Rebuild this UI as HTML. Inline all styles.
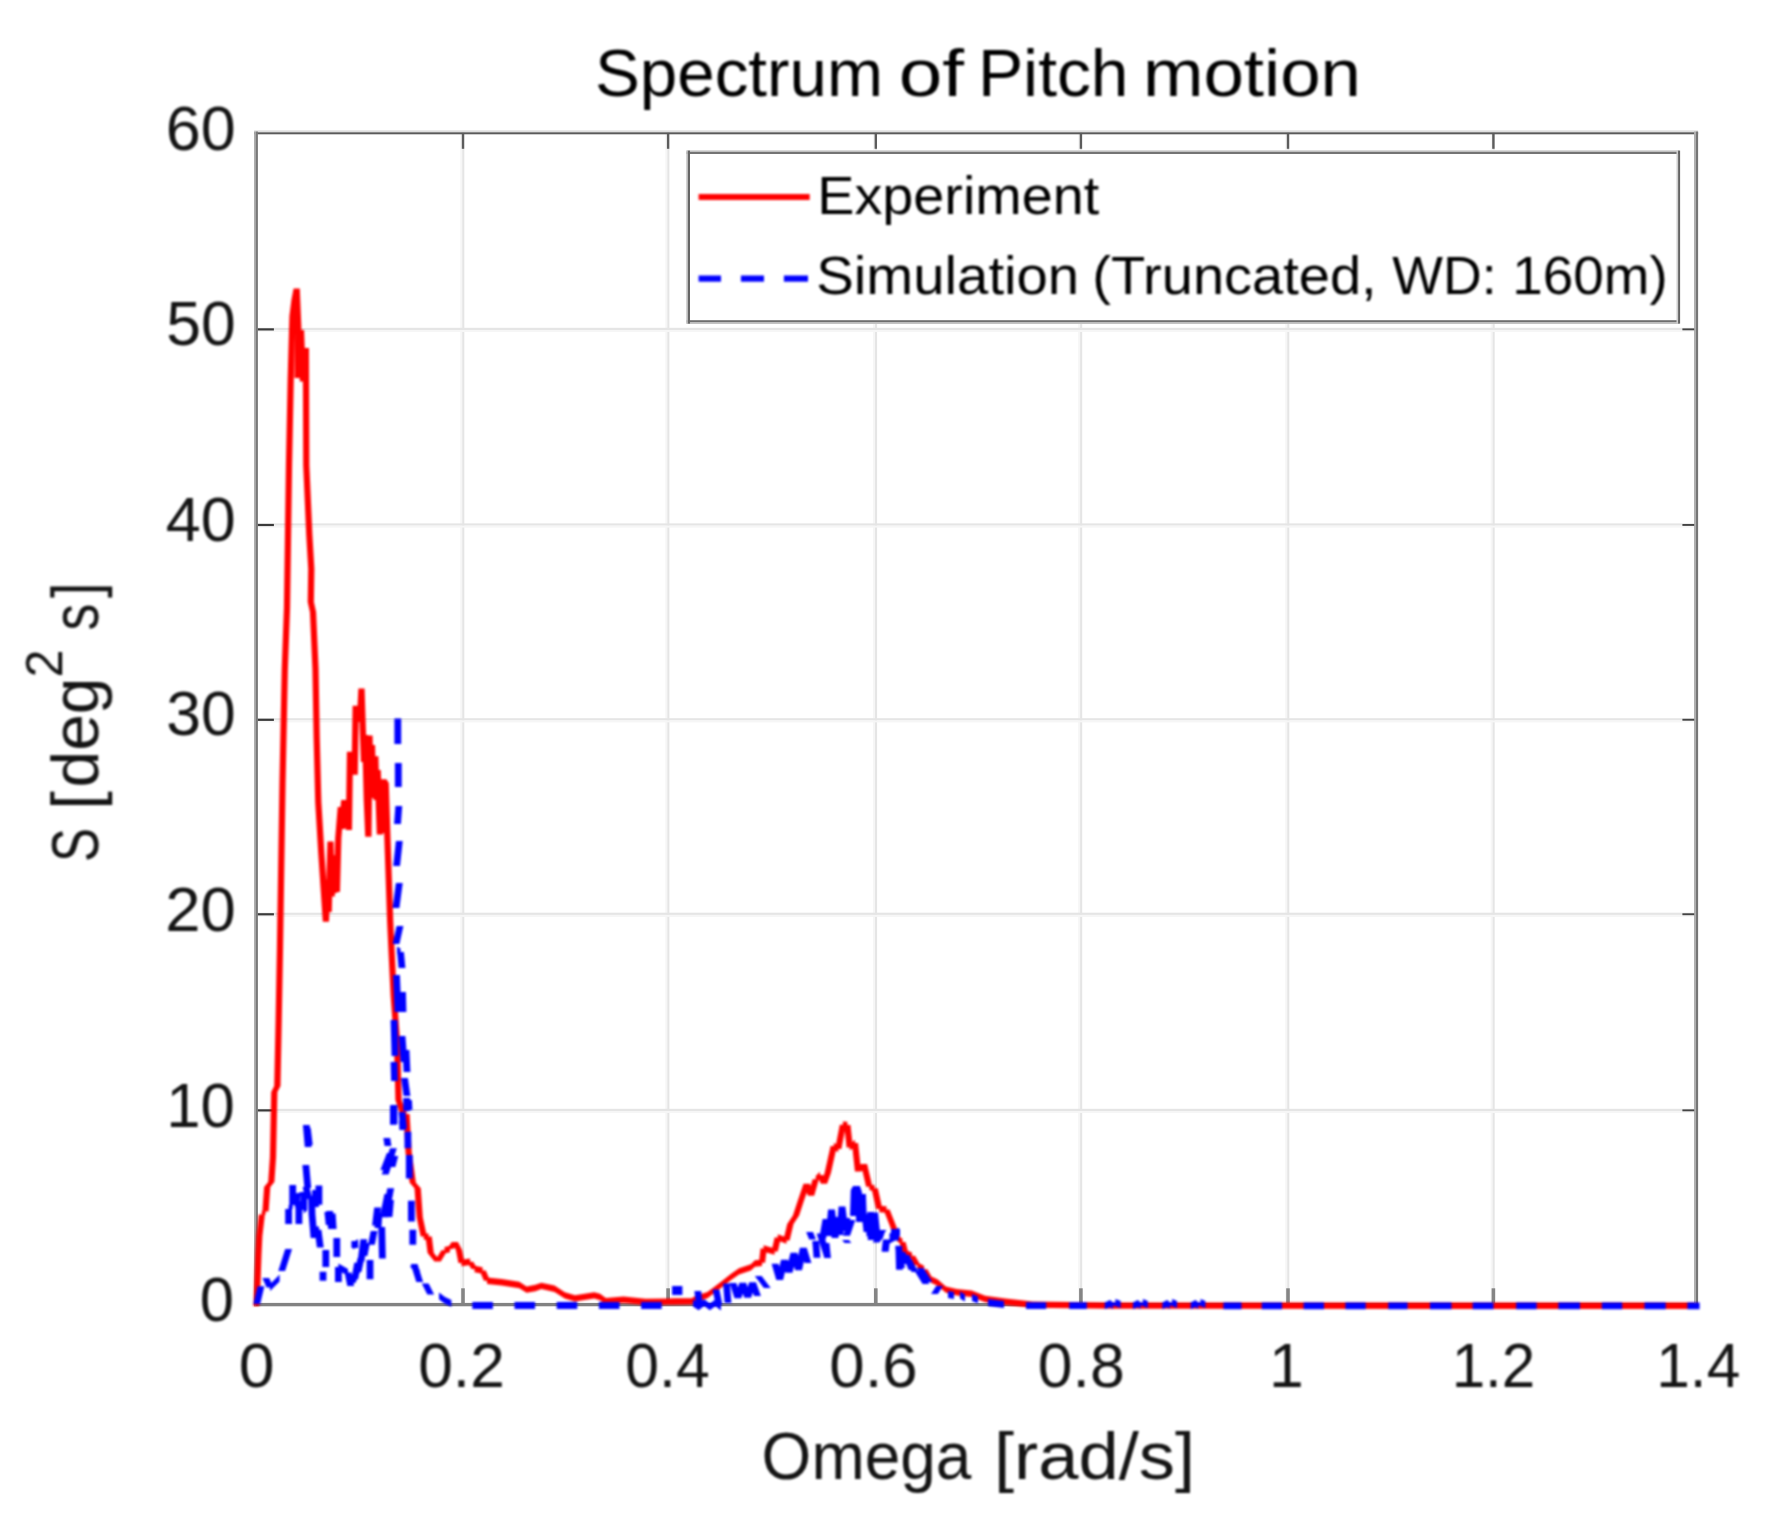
<!DOCTYPE html>
<html lang="en"><head><meta charset="utf-8"><title>Spectrum of Pitch motion</title>
<style>html,body{margin:0;padding:0;background:#fff}body{width:1771px;height:1522px;overflow:hidden}svg{display:block}text{font-family:"Liberation Sans",sans-serif;fill:#141414}</style></head><body>
<svg width="1771" height="1522" viewBox="0 0 1771 1522">
<defs><filter id="soft" x="0" y="0" width="1771" height="1522" filterUnits="userSpaceOnUse" color-interpolation-filters="sRGB"><feGaussianBlur stdDeviation="1"/></filter></defs>
<rect width="1771" height="1522" fill="#fff"/>
<rect x="460.3" y="131.8" width="2" height="1173.0" fill="#f6f6f6"/>
<rect x="462.2" y="131.8" width="2.1" height="1173.0" fill="#e5e5e5"/>
<rect x="665.4" y="131.8" width="2" height="1173.0" fill="#f6f6f6"/>
<rect x="667.3" y="131.8" width="2.1" height="1173.0" fill="#e5e5e5"/>
<rect x="873.1" y="131.8" width="2" height="1173.0" fill="#f6f6f6"/>
<rect x="875.0" y="131.8" width="2.1" height="1173.0" fill="#e5e5e5"/>
<rect x="1078.2" y="131.8" width="2" height="1173.0" fill="#f6f6f6"/>
<rect x="1080.1" y="131.8" width="2.1" height="1173.0" fill="#e5e5e5"/>
<rect x="1285.3" y="131.8" width="2" height="1173.0" fill="#f6f6f6"/>
<rect x="1287.2" y="131.8" width="2.1" height="1173.0" fill="#e5e5e5"/>
<rect x="1490.7" y="131.8" width="2" height="1173.0" fill="#f6f6f6"/>
<rect x="1492.6" y="131.8" width="2.1" height="1173.0" fill="#e5e5e5"/>
<rect x="256.0" y="327.8" width="1440.3" height="2.2" fill="#e5e5e5"/>
<rect x="256.0" y="330.0" width="1440.3" height="2" fill="#f6f6f6"/>
<rect x="256.0" y="523.4" width="1440.3" height="2.2" fill="#e5e5e5"/>
<rect x="256.0" y="525.6" width="1440.3" height="2" fill="#f6f6f6"/>
<rect x="256.0" y="718.2" width="1440.3" height="2.2" fill="#e5e5e5"/>
<rect x="256.0" y="720.4" width="1440.3" height="2" fill="#f6f6f6"/>
<rect x="256.0" y="912.7" width="1440.3" height="2.2" fill="#e5e5e5"/>
<rect x="256.0" y="914.9" width="1440.3" height="2" fill="#f6f6f6"/>
<rect x="256.0" y="1108.8" width="1440.3" height="2.2" fill="#e5e5e5"/>
<rect x="256.0" y="1111.0" width="1440.3" height="2" fill="#f6f6f6"/>
<rect x="254.1" y="130.3" width="1444" height="2" fill="#dedede"/>
<rect x="254.1" y="132.3" width="1444" height="2" fill="#5a5a5a"/>
<rect x="254.1" y="1302.9" width="1444" height="3.4" fill="#828282"/>
<rect x="254.1" y="131.5" width="1.9" height="1174.5" fill="#a6a6a6"/>
<rect x="256" y="131.5" width="1.9" height="1174.5" fill="#787878"/>
<rect x="1694" y="131.5" width="2" height="1174.5" fill="#b0b0b0"/>
<rect x="1696" y="131.5" width="2.1" height="1174.5" fill="#767676"/>
<rect x="461.2" y="1288.3" width="3.6" height="15" fill="#858585"/>
<rect x="461.8" y="133.8" width="2.4" height="15" fill="#5c5c5c"/>
<rect x="666.3" y="1288.3" width="3.6" height="15" fill="#858585"/>
<rect x="666.9" y="133.8" width="2.4" height="15" fill="#5c5c5c"/>
<rect x="874.0" y="1288.3" width="3.6" height="15" fill="#858585"/>
<rect x="874.6" y="133.8" width="2.4" height="15" fill="#5c5c5c"/>
<rect x="1079.1" y="1288.3" width="3.6" height="15" fill="#858585"/>
<rect x="1079.7" y="133.8" width="2.4" height="15" fill="#5c5c5c"/>
<rect x="1286.2" y="1288.3" width="3.6" height="15" fill="#858585"/>
<rect x="1286.8" y="133.8" width="2.4" height="15" fill="#5c5c5c"/>
<rect x="1491.6" y="1288.3" width="3.6" height="15" fill="#858585"/>
<rect x="1492.2" y="133.8" width="2.4" height="15" fill="#5c5c5c"/>
<rect x="257.9" y="328.3" width="16" height="2.2" fill="#3a3a3a"/>
<rect x="1682.4" y="328.4" width="11.8" height="1.9" fill="#444"/>
<rect x="257.9" y="523.9" width="16" height="2.2" fill="#3a3a3a"/>
<rect x="1682.4" y="524.0" width="11.8" height="1.9" fill="#444"/>
<rect x="257.9" y="718.7" width="16" height="2.2" fill="#3a3a3a"/>
<rect x="1682.4" y="718.8" width="11.8" height="1.9" fill="#444"/>
<rect x="257.9" y="913.2" width="16" height="2.2" fill="#3a3a3a"/>
<rect x="1682.4" y="913.3" width="11.8" height="1.9" fill="#444"/>
<rect x="257.9" y="1109.3" width="16" height="2.2" fill="#3a3a3a"/>
<rect x="1682.4" y="1109.4" width="11.8" height="1.9" fill="#444"/>
<rect x="686" y="150" width="994" height="174.1" fill="#fff"/>
<rect x="686.6" y="150.4" width="992.8" height="1.6" fill="#c0c0c0"/><rect x="686.6" y="152" width="992.8" height="2" fill="#747474"/>
<rect x="686.6" y="320.2" width="992.8" height="2.1" fill="#6e6e6e"/><rect x="686.6" y="322.3" width="992.8" height="1.5" fill="#b4b4b4"/>
<rect x="686.3" y="150.6" width="1.6" height="173" fill="#c0c0c0"/><rect x="687.9" y="150.6" width="2.1" height="173" fill="#666"/>
<rect x="1676.5" y="150.6" width="1.6" height="173" fill="#cfcfcf"/><rect x="1678.1" y="150.6" width="2" height="173" fill="#646464"/>
<g filter="url(#soft)">
<path fill="#ff0000" fill-rule="nonzero" d="M253.5 1302.5L259.8 1302.5L259.4 1306.0L253.2 1306.0ZM255.2 1255.0L261.5 1255.0L259.8 1302.5L253.5 1302.5ZM256.2 1236.0L262.4 1236.0L261.5 1255.0L255.2 1255.0ZM258.7 1214.4L264.9 1214.4L262.4 1236.0L256.2 1236.0ZM261.8 1211.2L265.5 1208.3L265.5 1214.7L261.8 1217.6ZM264.1 1187.0L270.3 1187.0L268.6 1211.5L262.4 1211.5ZM268.2 1182.0L274.4 1182.0L270.3 1187.0L264.1 1187.0ZM269.9 1157.0L276.1 1157.0L274.4 1182.0L268.2 1182.0ZM271.2 1092.0L277.4 1092.0L276.1 1157.0L269.9 1157.0ZM274.2 1086.0L280.5 1086.0L277.4 1092.0L271.2 1092.0ZM275.6 1019.0L281.8 1019.0L280.5 1086.0L274.2 1086.0ZM276.9 947.0L283.1 947.0L281.8 1019.0L275.6 1019.0ZM279.4 784.0L285.6 784.0L283.1 947.0L276.9 947.0ZM281.7 669.0L287.9 669.0L285.6 784.0L279.4 784.0ZM283.9 608.0L290.1 608.0L287.9 669.0L281.7 669.0ZM285.9 465.0L292.1 465.0L290.1 608.0L283.9 608.0ZM287.6 380.0L293.8 380.0L292.1 465.0L285.9 465.0ZM289.4 316.0L295.6 316.0L293.8 380.0L287.6 380.0ZM291.4 300.0L297.6 300.0L295.6 316.0L289.4 316.0ZM293.6 288.4L299.8 288.4L297.6 300.0L291.4 300.0ZM293.6 288.4L299.8 288.4L301.4 327.5L295.2 327.5ZM295.2 327.5L301.4 327.5L300.8 378.0L294.5 378.0ZM297.9 330.0L304.1 330.0L300.8 378.0L294.5 378.0ZM297.9 330.0L304.1 330.0L306.0 381.5L299.8 381.5ZM302.8 348.0L309.0 348.0L306.0 381.5L299.8 381.5ZM302.8 348.0L309.0 348.0L309.4 465.4L303.2 465.4ZM303.2 465.4L309.4 465.4L312.4 534.4L306.2 534.4ZM306.2 534.4L312.4 534.4L314.4 569.0L308.2 569.0ZM308.2 569.0L314.4 569.0L313.9 602.0L307.7 602.0ZM307.7 602.0L313.9 602.0L316.1 612.0L309.9 612.0ZM309.9 612.0L316.1 612.0L318.6 669.0L312.4 669.0ZM312.4 669.0L318.6 669.0L319.8 737.9L313.6 737.9ZM313.6 737.9L319.8 737.9L321.4 802.3L315.2 802.3ZM315.2 802.3L321.4 802.3L324.4 852.9L318.2 852.9ZM318.2 852.9L324.4 852.9L329.0 921.8L322.8 921.8ZM324.5 880.0L330.8 880.0L329.0 921.8L322.8 921.8ZM324.5 880.0L330.8 880.0L331.8 912.0L325.5 912.0ZM327.4 841.4L333.6 841.4L331.8 912.0L325.5 912.0ZM327.4 841.4L333.6 841.4L334.8 896.6L328.5 896.6ZM329.9 858.0L336.1 858.0L334.8 896.6L328.5 896.6ZM329.9 858.0L336.1 858.0L337.1 893.0L330.9 893.0ZM332.4 855.2L338.6 855.2L337.1 893.0L330.9 893.0ZM332.4 855.2L338.6 855.2L340.0 892.0L333.8 892.0ZM335.2 838.0L341.4 838.0L340.0 892.0L333.8 892.0ZM337.7 806.9L343.9 806.9L341.4 838.0L335.2 838.0ZM337.7 806.9L343.9 806.9L344.9 829.0L338.7 829.0ZM340.0 812.0L346.2 812.0L344.9 829.0L338.7 829.0ZM341.2 800.0L347.4 800.0L346.2 812.0L340.0 812.0ZM341.2 800.0L347.4 800.0L348.8 828.0L342.5 828.0ZM343.9 806.0L350.1 806.0L348.8 828.0L342.5 828.0ZM343.9 806.0L350.1 806.0L352.0 829.9L345.8 829.9ZM346.9 751.7L353.1 751.7L352.0 829.9L345.8 829.9ZM346.9 751.7L353.1 751.7L354.5 772.0L348.2 772.0ZM349.5 752.0L355.8 752.0L354.5 772.0L348.2 772.0ZM349.5 752.0L355.8 752.0L357.8 774.7L351.5 774.7ZM352.6 705.7L358.8 705.7L357.8 774.7L351.5 774.7ZM352.6 705.7L358.8 705.7L360.1 722.0L353.9 722.0ZM355.4 708.0L361.6 708.0L360.1 722.0L353.9 722.0ZM355.4 708.0L361.6 708.0L362.9 722.0L356.7 722.0ZM358.4 688.5L364.6 688.5L362.9 722.0L356.7 722.0ZM358.4 688.5L364.6 688.5L365.9 729.0L359.7 729.0ZM359.7 729.0L365.9 729.0L367.1 762.0L360.9 762.0ZM362.1 735.0L368.3 735.0L367.1 762.0L360.9 762.0ZM362.1 735.0L368.3 735.0L369.9 800.0L363.7 800.0ZM363.7 800.0L369.9 800.0L371.5 836.8L365.2 836.8ZM366.4 735.6L372.6 735.6L371.5 836.8L365.2 836.8ZM366.4 735.6L372.6 735.6L373.9 798.0L367.7 798.0ZM368.9 745.0L375.1 745.0L373.9 798.0L367.7 798.0ZM368.9 745.0L375.1 745.0L376.3 797.0L370.1 797.0ZM372.2 756.3L378.4 756.3L376.3 797.0L370.1 797.0ZM372.2 756.3L378.4 756.3L379.6 800.0L373.4 800.0ZM374.5 770.0L380.8 770.0L379.6 800.0L373.4 800.0ZM374.5 770.0L380.8 770.0L383.0 834.5L376.8 834.5ZM377.9 792.0L384.1 792.0L383.0 834.5L376.8 834.5ZM377.9 792.0L384.1 792.0L385.1 833.0L378.9 833.0ZM380.2 779.3L386.4 779.3L385.1 833.0L378.9 833.0ZM380.2 779.3L386.4 779.3L388.8 783.0L382.5 783.0ZM382.5 783.0L388.8 783.0L391.0 852.9L384.8 852.9ZM384.8 852.9L391.0 852.9L393.3 921.8L387.1 921.8ZM387.1 921.8L393.3 921.8L394.6 950.0L388.4 950.0ZM388.4 950.0L394.6 950.0L396.8 996.0L390.6 996.0ZM390.6 996.0L396.8 996.0L400.2 1042.0L394.0 1042.0ZM394.0 1042.0L400.2 1042.0L401.6 1100.0L395.4 1100.0ZM395.4 1100.0L401.6 1100.0L406.1 1113.8L399.9 1113.8ZM403.0 1110.6L406.5 1110.8L406.5 1117.2L403.0 1117.0ZM403.4 1114.0L409.6 1114.0L411.8 1152.4L405.5 1152.4ZM405.5 1152.4L411.8 1152.4L415.9 1182.8L409.7 1182.8ZM409.7 1182.8L415.9 1182.8L420.8 1188.3L414.5 1188.3ZM414.5 1188.3L420.8 1188.3L422.8 1217.2L416.6 1217.2ZM416.6 1217.2L422.8 1217.2L426.9 1236.6L420.7 1236.6ZM423.8 1233.4L428.6 1233.4L428.6 1239.8L423.8 1239.8ZM425.5 1236.6L431.8 1236.6L433.8 1253.0L427.6 1253.0ZM427.6 1253.0L433.8 1253.0L440.8 1261.4L434.5 1261.4ZM441.4 1250.3L447.6 1250.3L440.8 1261.4L434.5 1261.4ZM444.5 1247.1L450.0 1245.8L450.0 1252.2L444.5 1253.5ZM451.7 1242.0L457.9 1242.0L453.1 1249.0L446.9 1249.0ZM451.7 1242.0L457.9 1242.0L462.1 1250.0L455.9 1250.0ZM455.9 1250.0L462.1 1250.0L464.6 1263.0L458.4 1263.0ZM461.5 1259.8L470.1 1258.5L470.1 1264.9L461.5 1266.2ZM467.0 1261.7L473.2 1261.7L477.6 1269.0L471.4 1269.0ZM474.5 1265.8L482.6 1267.3L482.6 1273.7L474.5 1272.2ZM479.5 1270.5L485.8 1270.5L490.1 1280.7L483.9 1280.7ZM487.0 1277.5L501.7 1279.0L501.7 1285.4L487.0 1283.9ZM501.7 1279.0L519.3 1281.8L519.3 1288.2L501.7 1285.4ZM519.3 1281.8L526.6 1286.4L526.6 1292.8L519.3 1288.2ZM526.6 1286.4L535.4 1284.8L535.4 1291.2L526.6 1292.8ZM535.4 1284.8L541.3 1282.8L541.3 1289.1L535.4 1291.2ZM541.3 1282.8L554.5 1285.6L554.5 1292.0L541.3 1289.1ZM554.5 1285.6L564.8 1292.2L564.8 1298.6L554.5 1292.0ZM564.8 1292.2L575.0 1295.2L575.0 1301.6L564.8 1298.6ZM575.0 1295.2L594.2 1292.2L594.2 1298.6L575.0 1301.6ZM594.2 1292.2L600.0 1293.8L600.0 1300.2L594.2 1298.6ZM600.0 1293.8L605.9 1298.1L605.9 1304.5L600.0 1300.2ZM605.9 1298.1L623.5 1296.6L623.5 1303.0L605.9 1304.5ZM623.5 1296.6L645.5 1298.8L645.5 1305.2L623.5 1303.0ZM645.5 1298.8L667.6 1298.4L667.6 1304.8L645.5 1305.2ZM667.6 1298.4L691.6 1298.2L691.6 1304.6L667.6 1304.8ZM691.6 1298.2L695.6 1295.8L695.6 1302.2L691.6 1304.6ZM695.6 1295.8L707.4 1291.9L707.4 1298.2L695.6 1302.2ZM707.4 1291.9L720.0 1282.4L720.0 1288.8L707.4 1298.2ZM720.0 1282.4L731.1 1273.8L731.1 1280.1L720.0 1288.8ZM731.1 1273.8L739.0 1268.2L739.0 1274.6L731.1 1280.1ZM739.0 1268.2L750.9 1264.2L750.9 1270.6L739.0 1274.6ZM750.9 1264.2L754.9 1260.3L754.9 1266.7L750.9 1270.6ZM754.9 1260.3L762.0 1259.5L762.0 1265.9L754.9 1266.7ZM760.5 1248.5L766.8 1248.5L765.1 1262.7L758.9 1262.7ZM763.6 1245.3L774.6 1248.4L774.6 1254.8L763.6 1251.7ZM774.6 1237.4L780.9 1237.4L777.8 1251.6L771.5 1251.6ZM777.8 1234.2L786.5 1237.4L786.5 1243.8L777.8 1240.6ZM787.2 1224.0L793.5 1224.0L789.6 1240.6L783.4 1240.6ZM792.9 1215.4L799.1 1215.4L793.5 1224.0L787.2 1224.0ZM797.4 1201.8L803.6 1201.8L799.1 1215.4L792.9 1215.4ZM803.5 1183.7L809.8 1183.7L803.6 1201.8L797.4 1201.8ZM803.5 1183.7L809.8 1183.7L814.2 1195.8L808.0 1195.8ZM812.6 1179.2L818.9 1179.2L814.2 1195.8L808.0 1195.8ZM815.7 1176.0L820.0 1171.8L820.0 1178.2L815.7 1182.4ZM816.9 1175.0L823.1 1175.0L827.1 1183.7L820.9 1183.7ZM824.6 1173.1L830.9 1173.1L827.1 1183.7L820.9 1183.7ZM830.6 1145.9L836.9 1145.9L830.9 1173.1L824.6 1173.1ZM833.8 1142.8L838.3 1145.8L838.3 1152.2L833.8 1149.1ZM839.8 1124.8L846.0 1124.8L841.4 1149.0L835.1 1149.0ZM842.9 1121.6L847.4 1121.8L847.4 1128.2L842.9 1128.0ZM844.2 1125.0L850.5 1125.0L852.9 1147.4L846.6 1147.4ZM849.7 1144.2L855.0 1139.8L855.0 1146.1L849.7 1150.6ZM851.9 1142.9L858.1 1142.9L861.1 1171.6L854.9 1171.6ZM860.9 1164.0L867.1 1164.0L861.1 1171.6L854.9 1171.6ZM860.9 1164.0L867.1 1164.0L872.4 1186.7L866.1 1186.7ZM869.3 1183.5L874.6 1185.0L874.6 1191.4L869.3 1189.9ZM871.5 1188.2L877.8 1188.2L882.4 1209.0L876.1 1209.0ZM879.3 1205.8L886.5 1206.3L886.5 1212.7L879.3 1212.2ZM883.4 1209.5L889.6 1209.5L896.1 1225.9L889.9 1225.9ZM889.9 1225.9L896.1 1225.9L900.2 1238.0L894.0 1238.0ZM897.1 1234.8L902.5 1238.8L902.5 1245.2L897.1 1241.2ZM899.4 1242.0L905.6 1242.0L908.4 1253.0L902.1 1253.0ZM905.2 1249.8L912.0 1252.5L912.0 1258.9L905.2 1256.2ZM908.9 1255.7L915.1 1255.7L920.5 1265.2L914.2 1265.2ZM917.4 1262.0L924.2 1266.1L924.2 1272.5L917.4 1268.4ZM921.1 1269.3L927.4 1269.3L932.8 1278.7L926.5 1278.7ZM929.6 1275.5L937.8 1279.6L937.8 1286.0L929.6 1281.9ZM937.8 1279.6L945.9 1286.4L945.9 1292.8L937.8 1286.0ZM945.9 1286.4L956.7 1289.1L956.7 1295.5L945.9 1292.8ZM956.7 1289.1L971.6 1290.5L971.6 1296.9L956.7 1295.5ZM971.6 1290.5L985.2 1295.8L985.2 1302.2L971.6 1296.9ZM985.2 1295.8L1005.5 1298.6L1005.5 1305.0L985.2 1302.2ZM1005.5 1298.6L1032.6 1301.4L1032.6 1307.8L1005.5 1305.0ZM1032.6 1301.4L1110.0 1302.4L1110.0 1308.8L1032.6 1307.8ZM1110.0 1302.4L1698.6 1302.6L1698.6 1309.0L1110.0 1308.8Z"/>
<path fill="#0000ff" fill-rule="nonzero" d="M257.6 1286.2L264.4 1286.2L260.2 1304.0L253.4 1304.0ZM262.4 1278.0L269.2 1278.0L273.4 1287.6L266.6 1287.6ZM270.0 1284.2L279.6 1274.6L279.6 1281.4L270.0 1291.0ZM285.2 1249.0L292.0 1249.0L285.1 1271.0L278.3 1271.0ZM285.2 1209.0L292.0 1209.0L292.0 1224.0L285.2 1224.0ZM288.6 1205.6L292.7 1201.6L292.7 1208.4L288.6 1212.4ZM289.3 1185.0L296.1 1185.0L296.1 1205.0L289.3 1205.0ZM292.6 1199.0L299.4 1199.0L296.1 1203.0L289.3 1203.0ZM292.6 1199.0L299.4 1199.0L302.3 1208.0L295.5 1208.0ZM295.5 1208.0L302.3 1208.0L302.3 1224.0L295.5 1224.0ZM295.5 1193.6L300.0 1192.6L300.0 1199.4L295.5 1200.4ZM300.3 1192.0L307.1 1192.0L303.4 1196.0L296.6 1196.0ZM300.3 1192.0L307.1 1192.0L307.1 1210.0L300.3 1210.0ZM303.7 1206.6L307.0 1203.6L307.0 1210.4L303.7 1213.4ZM302.4 1165.0L309.2 1165.0L311.2 1188.0L304.4 1188.0ZM302.6 1187.0L309.4 1187.0L312.4 1199.0L305.6 1199.0ZM302.9 1125.0L309.7 1125.0L311.6 1147.0L304.8 1147.0ZM303.9 1128.0L310.7 1128.0L312.7 1145.0L305.9 1145.0ZM315.5 1185.5L322.3 1185.5L322.3 1204.8L315.5 1204.8ZM312.1 1190.0L318.9 1190.0L318.9 1207.0L312.1 1207.0ZM308.1 1196.0L314.9 1196.0L315.4 1214.0L308.6 1214.0ZM308.6 1214.0L315.4 1214.0L317.4 1238.0L310.6 1238.0ZM312.0 1226.6L319.0 1226.6L319.0 1233.4L312.0 1233.4ZM314.6 1229.7L321.4 1229.7L323.7 1247.6L316.9 1247.6ZM326.2 1211.0L333.0 1211.0L335.0 1229.0L328.2 1229.0ZM328.8 1213.5L335.6 1213.5L336.6 1229.0L329.8 1229.0ZM324.4 1212.0L331.2 1212.0L332.6 1225.0L325.8 1225.0ZM322.4 1250.0L329.2 1250.0L329.2 1267.0L322.4 1267.0ZM319.6 1271.7L326.4 1271.7L326.4 1280.7L319.6 1280.7ZM333.4 1238.0L340.2 1238.0L340.2 1257.0L333.4 1257.0ZM335.0 1267.0L341.8 1267.0L341.8 1282.0L335.0 1282.0ZM338.4 1263.6L348.0 1269.0L348.0 1275.8L338.4 1270.4ZM344.6 1272.4L351.4 1272.4L354.1 1286.0L347.3 1286.0ZM351.4 1241.0L358.2 1241.0L358.2 1248.0L351.4 1248.0ZM353.0 1242.6L358.0 1239.1L358.0 1245.9L353.0 1249.4ZM360.4 1239.3L367.2 1239.3L364.4 1261.4L357.6 1261.4ZM354.2 1262.8L361.0 1262.8L358.2 1279.3L351.4 1279.3ZM354.1 1270.0L360.9 1270.0L355.4 1283.0L348.6 1283.0ZM357.6 1258.0L364.4 1258.0L361.4 1272.0L354.6 1272.0ZM366.6 1260.0L373.4 1260.0L373.4 1279.3L366.6 1279.3ZM363.1 1243.0L369.9 1243.0L367.4 1256.0L360.6 1256.0ZM370.7 1231.0L377.5 1231.0L374.8 1244.8L368.0 1244.8ZM374.2 1207.6L381.0 1207.6L378.9 1225.5L372.1 1225.5ZM375.6 1213.0L382.4 1213.0L381.4 1228.0L374.6 1228.0ZM378.3 1227.0L385.1 1227.0L385.8 1258.6L379.0 1258.6ZM387.3 1188.3L394.1 1188.3L388.6 1217.2L381.8 1217.2ZM384.4 1194.0L391.2 1194.0L387.4 1213.0L380.6 1213.0ZM387.1 1200.0L393.9 1200.0L392.4 1217.0L385.6 1217.0ZM383.4 1138.0L390.2 1138.0L391.4 1146.0L384.6 1146.0ZM390.0 1148.3L396.8 1148.3L388.6 1174.5L381.8 1174.5ZM386.9 1153.0L393.7 1153.0L387.2 1170.0L380.4 1170.0ZM391.4 1156.0L398.2 1156.0L395.4 1167.0L388.6 1167.0ZM390.0 1105.5L396.8 1105.5L396.8 1124.8L390.0 1124.8ZM403.2 1098.0L410.0 1098.0L410.0 1111.0L403.2 1111.0ZM399.0 1120.7L405.8 1120.7L406.2 1130.0L399.4 1130.0ZM404.5 1131.7L411.3 1131.7L411.3 1148.3L404.5 1148.3ZM405.9 1155.0L412.7 1155.0L412.7 1178.6L405.9 1178.6ZM408.0 1200.7L414.8 1200.7L414.8 1221.4L408.0 1221.4ZM409.4 1229.7L416.2 1229.7L416.2 1244.8L409.4 1244.8ZM409.8 1266.0L416.6 1266.0L420.4 1271.0L413.6 1271.0ZM410.7 1264.0L417.5 1264.0L423.1 1282.0L416.3 1282.0ZM421.8 1283.4L428.6 1283.4L434.1 1294.5L427.3 1294.5ZM439.0 1292.5L445.0 1297.1L445.0 1303.9L439.0 1299.3ZM445.0 1297.1L451.4 1300.0L451.4 1306.8L445.0 1303.9ZM394.4 718.5L401.2 718.5L401.2 744.0L394.4 744.0ZM394.9 763.0L401.7 763.0L401.7 787.0L394.9 787.0ZM395.4 806.0L402.2 806.0L400.9 824.0L394.1 824.0ZM395.9 841.0L402.7 841.0L400.0 866.0L393.2 866.0ZM395.9 883.0L402.7 883.0L399.4 908.0L392.6 908.0ZM396.6 926.0L403.4 926.0L399.4 944.0L392.6 944.0ZM397.0 946.6L400.5 948.6L400.5 955.4L397.0 953.4ZM397.1 952.0L403.9 952.0L405.4 968.0L398.6 968.0ZM393.1 975.0L399.9 975.0L401.4 1012.0L394.6 1012.0ZM399.1 992.0L405.9 992.0L406.4 1012.0L399.6 1012.0ZM390.6 1020.0L397.4 1020.0L398.4 1056.0L391.6 1056.0ZM398.6 1036.0L405.4 1036.0L407.4 1062.0L400.6 1062.0ZM402.6 1050.0L409.4 1050.0L410.4 1072.0L403.6 1072.0ZM390.6 1062.0L397.4 1062.0L397.9 1081.0L391.1 1081.0ZM401.1 1078.0L407.9 1078.0L410.4 1096.0L403.6 1096.0ZM405.1 1100.0L411.9 1100.0L412.4 1110.0L405.6 1110.0ZM390.6 1105.0L397.4 1105.0L397.4 1124.0L390.6 1124.0ZM398.6 1112.0L405.4 1112.0L406.9 1128.0L400.1 1128.0ZM672.1 1286.0L678.9 1286.0L678.9 1295.0L672.1 1295.0ZM675.6 1286.0L682.4 1286.0L682.4 1295.0L675.6 1295.0ZM674.0 1287.1L681.0 1287.1L681.0 1293.9L674.0 1293.9ZM694.4 1291.0L701.2 1291.0L702.7 1304.6L695.9 1304.6ZM712.6 1289.5L719.4 1289.5L722.4 1304.6L715.6 1304.6ZM723.1 1283.4L729.9 1283.4L731.4 1303.0L724.6 1303.0ZM754.8 1275.9L761.6 1275.9L770.7 1288.0L763.9 1288.0ZM806.2 1232.0L813.0 1232.0L816.0 1239.6L809.2 1239.6ZM812.3 1241.0L819.1 1241.0L820.4 1257.7L813.6 1257.7ZM816.6 1233.6L823.4 1233.6L831.1 1257.7L824.3 1257.7ZM822.6 1243.0L829.4 1243.0L830.9 1258.0L824.1 1258.0ZM848.5 1220.0L855.3 1220.0L850.0 1235.8L843.2 1235.8ZM842.1 1240.0L848.9 1240.0L851.4 1243.0L844.6 1243.0ZM850.8 1190.0L857.6 1190.0L856.8 1216.0L850.0 1216.0ZM853.1 1186.0L859.9 1186.0L857.6 1190.0L850.8 1190.0ZM853.1 1186.0L859.9 1186.0L861.9 1192.0L855.1 1192.0ZM855.1 1192.0L861.9 1192.0L862.9 1222.0L856.1 1222.0ZM852.6 1190.0L859.4 1190.0L860.0 1210.0L853.2 1210.0ZM859.1 1194.0L865.9 1194.0L866.9 1222.0L860.1 1222.0ZM865.2 1214.0L872.0 1214.0L873.4 1236.6L866.6 1236.6ZM862.1 1218.0L868.9 1218.0L870.4 1232.0L863.6 1232.0ZM871.2 1212.4L878.0 1212.4L881.0 1241.0L874.2 1241.0ZM868.6 1218.0L875.4 1218.0L876.4 1236.0L869.6 1236.0ZM878.6 1230.5L885.4 1230.5L882.4 1239.6L875.6 1239.6ZM883.3 1239.6L890.1 1239.6L888.6 1251.7L881.8 1251.7ZM891.0 1229.1L900.0 1229.1L900.0 1235.9L891.0 1235.9ZM892.0 1233.6L899.0 1233.6L899.0 1240.4L892.0 1240.4ZM895.4 1245.7L902.2 1245.7L902.9 1269.8L896.1 1269.8ZM693.0 1299.6L698.6 1303.5L698.6 1310.3L693.0 1306.4ZM698.6 1303.5L704.2 1299.3L704.2 1306.1L698.6 1310.3ZM704.2 1299.3L709.8 1303.4L709.8 1310.2L704.2 1306.1ZM709.8 1303.4L715.4 1299.4L715.4 1306.2L709.8 1310.2ZM715.4 1299.4L721.0 1303.7L721.0 1310.5L715.4 1306.2ZM729.6 1283.0L736.4 1283.0L741.3 1298.3L734.5 1298.3ZM739.4 1282.7L746.2 1282.7L741.3 1298.3L734.5 1298.3ZM739.4 1282.7L746.2 1282.7L751.1 1297.7L744.3 1297.7ZM749.2 1282.2L756.0 1282.2L751.1 1297.7L744.3 1297.7ZM749.2 1282.2L756.0 1282.2L760.9 1296.1L754.1 1296.1ZM771.6 1263.8L778.4 1263.8L783.1 1280.1L776.3 1280.1ZM781.0 1259.7L787.8 1259.7L783.1 1280.1L776.3 1280.1ZM781.0 1259.7L787.8 1259.7L792.5 1272.8L785.7 1272.8ZM790.5 1252.8L797.3 1252.8L792.5 1272.8L785.7 1272.8ZM790.5 1252.8L797.3 1252.8L802.0 1270.3L795.2 1270.3ZM799.9 1247.8L806.7 1247.8L802.0 1270.3L795.2 1270.3ZM799.9 1247.8L806.7 1247.8L811.4 1263.1L804.6 1263.1ZM822.6 1219.0L829.4 1219.0L825.9 1239.0L819.1 1239.0ZM822.6 1219.0L829.4 1219.0L832.4 1236.0L825.6 1236.0ZM828.1 1209.5L834.9 1209.5L832.4 1236.0L825.6 1236.0ZM828.1 1209.5L834.9 1209.5L838.4 1238.0L831.6 1238.0ZM834.6 1217.0L841.4 1217.0L838.4 1238.0L831.6 1238.0ZM834.6 1217.0L841.4 1217.0L843.4 1235.0L836.6 1235.0ZM838.6 1206.5L845.4 1206.5L843.4 1235.0L836.6 1235.0ZM838.6 1206.5L845.4 1206.5L848.4 1231.0L841.6 1231.0ZM843.6 1218.0L850.4 1218.0L848.4 1231.0L841.6 1231.0ZM867.1 1212.0L873.9 1212.0L876.9 1228.0L870.1 1228.0ZM869.1 1228.0L875.9 1228.0L874.4 1240.0L867.6 1240.0ZM879.6 1230.0L886.4 1230.0L879.9 1239.5L873.1 1239.5ZM874.1 1240.0L880.9 1240.0L879.4 1242.5L872.6 1242.5ZM882.9 1240.0L889.7 1240.0L888.4 1251.0L881.6 1251.0ZM889.5 1233.6L899.0 1227.6L899.0 1234.4L889.5 1240.4ZM889.5 1236.6L898.0 1232.1L898.0 1238.9L889.5 1243.4ZM895.1 1247.0L901.9 1247.0L904.9 1268.0L898.1 1268.0ZM898.6 1252.0L905.4 1252.0L909.4 1264.0L902.6 1264.0ZM902.6 1255.0L909.4 1255.0L915.4 1270.0L908.6 1270.0ZM904.6 1259.0L911.4 1259.0L918.4 1272.0L911.6 1272.0ZM914.6 1271.0L921.4 1271.0L929.4 1284.0L922.6 1284.0ZM916.6 1268.0L923.4 1268.0L932.4 1282.0L925.6 1282.0ZM936.1 1286.0L942.9 1286.0L937.9 1294.0L931.1 1294.0ZM948.0 1291.1L954.0 1292.1L954.0 1298.9L948.0 1297.9ZM960.0 1291.6L965.0 1294.6L965.0 1301.4L960.0 1298.4ZM972.0 1294.1L978.0 1296.6L978.0 1303.4L972.0 1300.9ZM988.0 1299.1L1004.0 1301.1L1004.0 1307.9L988.0 1305.9ZM1026.0 1302.2L1046.2 1302.2L1046.2 1309.0L1026.0 1309.0ZM1069.2 1302.2L1086.8 1302.2L1086.8 1309.0L1069.2 1309.0ZM1104.8 1302.4L1110.1 1300.1L1110.1 1306.9L1104.8 1309.2ZM1110.1 1300.1L1112.8 1302.4L1112.8 1309.2L1110.1 1306.9ZM1112.0 1302.5L1118.8 1302.5L1116.2 1305.8L1109.3 1305.8ZM1115.4 1299.1L1120.7 1301.1L1120.7 1307.9L1115.4 1305.9ZM1133.0 1302.4L1137.9 1300.1L1137.9 1306.9L1133.0 1309.2ZM1137.9 1300.1L1140.4 1302.4L1140.4 1309.2L1137.9 1306.9ZM1139.5 1302.5L1146.3 1302.5L1143.8 1305.8L1137.0 1305.8ZM1142.9 1299.1L1147.8 1301.1L1147.8 1307.9L1142.9 1305.9ZM1162.4 1302.4L1167.3 1300.1L1167.3 1306.9L1162.4 1309.2ZM1167.3 1300.1L1169.7 1302.4L1169.7 1309.2L1167.3 1306.9ZM1168.7 1302.5L1175.5 1302.5L1173.1 1305.8L1166.3 1305.8ZM1172.1 1299.1L1177.0 1301.1L1177.0 1307.9L1172.1 1305.9ZM1190.7 1302.4L1195.6 1300.1L1195.6 1306.9L1190.7 1309.2ZM1195.6 1300.1L1198.1 1302.4L1198.1 1309.2L1195.6 1306.9ZM1197.1 1302.5L1203.9 1302.5L1201.5 1305.8L1194.7 1305.8ZM1200.5 1299.1L1205.4 1301.1L1205.4 1307.9L1200.5 1305.9ZM1223.4 1302.4L1241.5 1302.4L1241.5 1309.2L1223.4 1309.2ZM1261.8 1302.4L1282.0 1302.4L1282.0 1309.2L1261.8 1309.2ZM1303.6 1302.4L1324.0 1302.4L1324.0 1309.2L1303.6 1309.2ZM1345.4 1302.4L1365.7 1302.4L1365.7 1309.2L1345.4 1309.2ZM1388.3 1302.4L1407.5 1302.4L1407.5 1309.2L1388.3 1309.2ZM1430.0 1302.4L1451.5 1302.4L1451.5 1309.2L1430.0 1309.2ZM1472.7 1302.4L1493.5 1302.4L1493.5 1309.2L1472.7 1309.2ZM1516.2 1302.4L1536.6 1302.4L1536.6 1309.2L1516.2 1309.2ZM1558.4 1302.4L1580.0 1302.4L1580.0 1309.2L1558.4 1309.2ZM1601.9 1302.4L1622.2 1302.4L1622.2 1309.2L1601.9 1309.2ZM1644.5 1302.4L1665.7 1302.4L1665.7 1309.2L1644.5 1309.2ZM1687.4 1302.4L1699.6 1302.4L1699.6 1309.2L1687.4 1309.2Z"/>
<polyline fill="none" stroke="#0000ff" stroke-width="6.8" stroke-dasharray="20.6 21.6" stroke-dashoffset="0.0" points="472.3,1305.5 662.0,1305.5"/>
<line x1="698.6" y1="197" x2="809.7" y2="197" stroke="#ff0000" stroke-width="6.2"/>
<line x1="698.6" y1="278.6" x2="721.0" y2="278.6" stroke="#0000ff" stroke-width="6.2"/>
<line x1="740.9" y1="278.6" x2="764.0" y2="278.6" stroke="#0000ff" stroke-width="6.2"/>
<line x1="783.9" y1="278.6" x2="808.0" y2="278.6" stroke="#0000ff" stroke-width="6.2"/>
<text y="95.9" font-size="67.0" style="fill:#000"><tspan x="594.98" textLength="288.00" lengthAdjust="spacingAndGlyphs">Spectrum</tspan> <tspan x="898.71" textLength="65.31" lengthAdjust="spacingAndGlyphs">of</tspan> <tspan x="977.91" textLength="150.65" lengthAdjust="spacingAndGlyphs">Pitch</tspan> <tspan x="1142.92" textLength="218.15" lengthAdjust="spacingAndGlyphs">motion</tspan></text>
<text y="213.8" font-size="53.0" style="fill:#000"><tspan x="817.34" textLength="281.84" lengthAdjust="spacingAndGlyphs">Experiment</tspan></text>
<text y="294.0" font-size="53.0" style="fill:#000"><tspan x="816.32" textLength="262.86" lengthAdjust="spacingAndGlyphs">Simulation</tspan> <tspan x="1092.28" textLength="284.43" lengthAdjust="spacingAndGlyphs">(Truncated,</tspan> <tspan x="1392.32" textLength="104.29" lengthAdjust="spacingAndGlyphs">WD:</tspan> <tspan x="1512.29" textLength="155.40" lengthAdjust="spacingAndGlyphs">160m)</tspan></text>
<text y="1386.5" font-size="63.5"><tspan x="238.84" textLength="35.78" lengthAdjust="spacingAndGlyphs">0</tspan></text>
<text y="1386.5" font-size="63.5"><tspan x="418.23" textLength="86.53" lengthAdjust="spacingAndGlyphs">0.2</tspan></text>
<text y="1386.5" font-size="63.5"><tspan x="625.29" textLength="84.44" lengthAdjust="spacingAndGlyphs">0.4</tspan></text>
<text y="1386.5" font-size="63.5"><tspan x="829.26" textLength="88.49" lengthAdjust="spacingAndGlyphs">0.6</tspan></text>
<text y="1386.5" font-size="63.5"><tspan x="1037.74" textLength="87.00" lengthAdjust="spacingAndGlyphs">0.8</tspan></text>
<text y="1386.5" font-size="63.5"><tspan x="1269.11" textLength="34.76" lengthAdjust="spacingAndGlyphs">1</tspan></text>
<text y="1386.5" font-size="63.5"><tspan x="1451.67" textLength="83.66" lengthAdjust="spacingAndGlyphs">1.2</tspan></text>
<text y="1386.5" font-size="63.5"><tspan x="1656.25" textLength="84.03" lengthAdjust="spacingAndGlyphs">1.4</tspan></text>
<text y="150.2" font-size="63.5"><tspan x="165.78" textLength="69.95" lengthAdjust="spacingAndGlyphs">60</tspan></text>
<text y="344.8" font-size="63.5"><tspan x="166.28" textLength="69.45" lengthAdjust="spacingAndGlyphs">50</tspan></text>
<text y="540.5" font-size="63.5"><tspan x="165.72" textLength="69.98" lengthAdjust="spacingAndGlyphs">40</tspan></text>
<text y="735.3" font-size="63.5"><tspan x="166.28" textLength="69.47" lengthAdjust="spacingAndGlyphs">30</tspan></text>
<text y="930.5" font-size="63.5"><tspan x="165.22" textLength="70.55" lengthAdjust="spacingAndGlyphs">20</tspan></text>
<text y="1126.5" font-size="63.5"><tspan x="166.23" textLength="68.56" lengthAdjust="spacingAndGlyphs">10</tspan></text>
<text y="1320.5" font-size="63.5"><tspan x="199.86" textLength="34.29" lengthAdjust="spacingAndGlyphs">0</tspan></text>
<text y="1478.5" font-size="66.0"><tspan x="761.62" textLength="209.84" lengthAdjust="spacingAndGlyphs">Omega</tspan> <tspan x="993.98" textLength="201.06" lengthAdjust="spacingAndGlyphs">[rad/s]</tspan></text>
<g transform="translate(98.2,0) rotate(-90)"><text y="0" font-size="66"><tspan x="-862.0" textLength="34.0" lengthAdjust="spacingAndGlyphs">S</tspan><tspan x="-828.5" textLength="37.3" lengthAdjust="spacingAndGlyphs"> [</tspan><tspan x="-787.5" textLength="110.0" lengthAdjust="spacingAndGlyphs">deg</tspan><tspan x="-677.5" dy="-36.5" font-size="52" textLength="28.0" lengthAdjust="spacingAndGlyphs">2</tspan><tspan x="-645.5" dy="36.5" textLength="41.8" lengthAdjust="spacingAndGlyphs"> s</tspan><tspan x="-598.0" textLength="15.5" lengthAdjust="spacingAndGlyphs">]</tspan></text></g>
</g></svg></body></html>
